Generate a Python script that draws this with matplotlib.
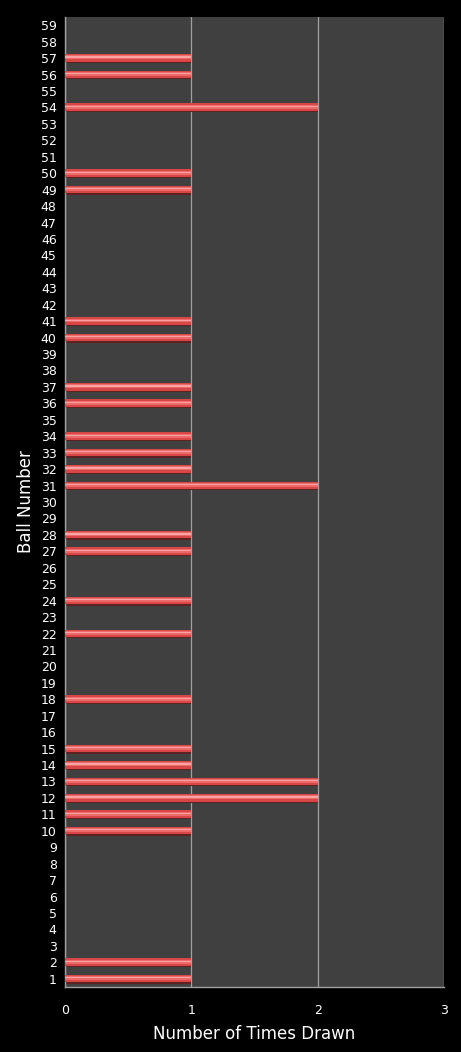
import matplotlib.pyplot as plt
import numpy as np

# ball numbers and how often each was drawn
balls = list(range(1, 60))
drawn_balls = [1, 2, 10, 11, 12, 13, 14, 15, 18, 22, 24, 27, 28, 31, 32, 33, 34,
               36, 37, 40, 41, 49, 50, 54, 56, 57]
drawn_counts = [1, 1, 1, 1, 2, 2, 1, 1, 1, 1, 1, 1, 1, 2, 1, 1, 1,
                1, 1, 1, 1, 1, 1, 2, 1, 1]

counts = np.zeros(len(balls))
for b, c in zip(drawn_balls, drawn_counts):
    counts[b - 1] = c

fig = plt.figure(figsize=(4.61, 10.52), dpi=100, facecolor='black')
ax = fig.add_axes([65/461, 65/1052, 379/461, 970/1052])
ax.set_facecolor('#404040')

# fake 3d look: shadow, base, lighter stripe, highlight
y = np.array(balls)
ax.barh(y - 0.05, counts, height=0.5, color='#5c2222', zorder=2)
ax.barh(y + 0.01, counts, height=0.46, color='#d84646', zorder=3)
ax.barh(y + 0.04, counts, height=0.24, color='#ec6a6a', zorder=4)
ax.barh(y + 0.06, counts, height=0.08, color='#f8a4a4', zorder=5)

ax.set_xlim(0, 3)
ax.set_ylim(0.5, 59.5)
ax.set_xticks([0, 1, 2, 3])
ax.set_yticks(balls)
ax.set_yticklabels([str(b) for b in balls])
ax.grid(axis='x', color='#a0a0a0', linewidth=0.9, zorder=1)
ax.set_axisbelow(True)
ax.tick_params(colors='white', length=0, labelsize=9, pad=6)
ax.tick_params(axis='x', pad=12)

for side in ['top', 'right']:
    ax.spines[side].set_visible(False)
for side in ['left', 'bottom']:
    ax.spines[side].set_color('#a0a0a0')
    ax.spines[side].set_linewidth(1)

ax.set_xlabel('Number of Times Drawn', color='white', fontsize=12, labelpad=6)
ax.set_ylabel('Ball Number', color='white', fontsize=12, labelpad=4)

plt.savefig('out.png', dpi=100, facecolor='black')
